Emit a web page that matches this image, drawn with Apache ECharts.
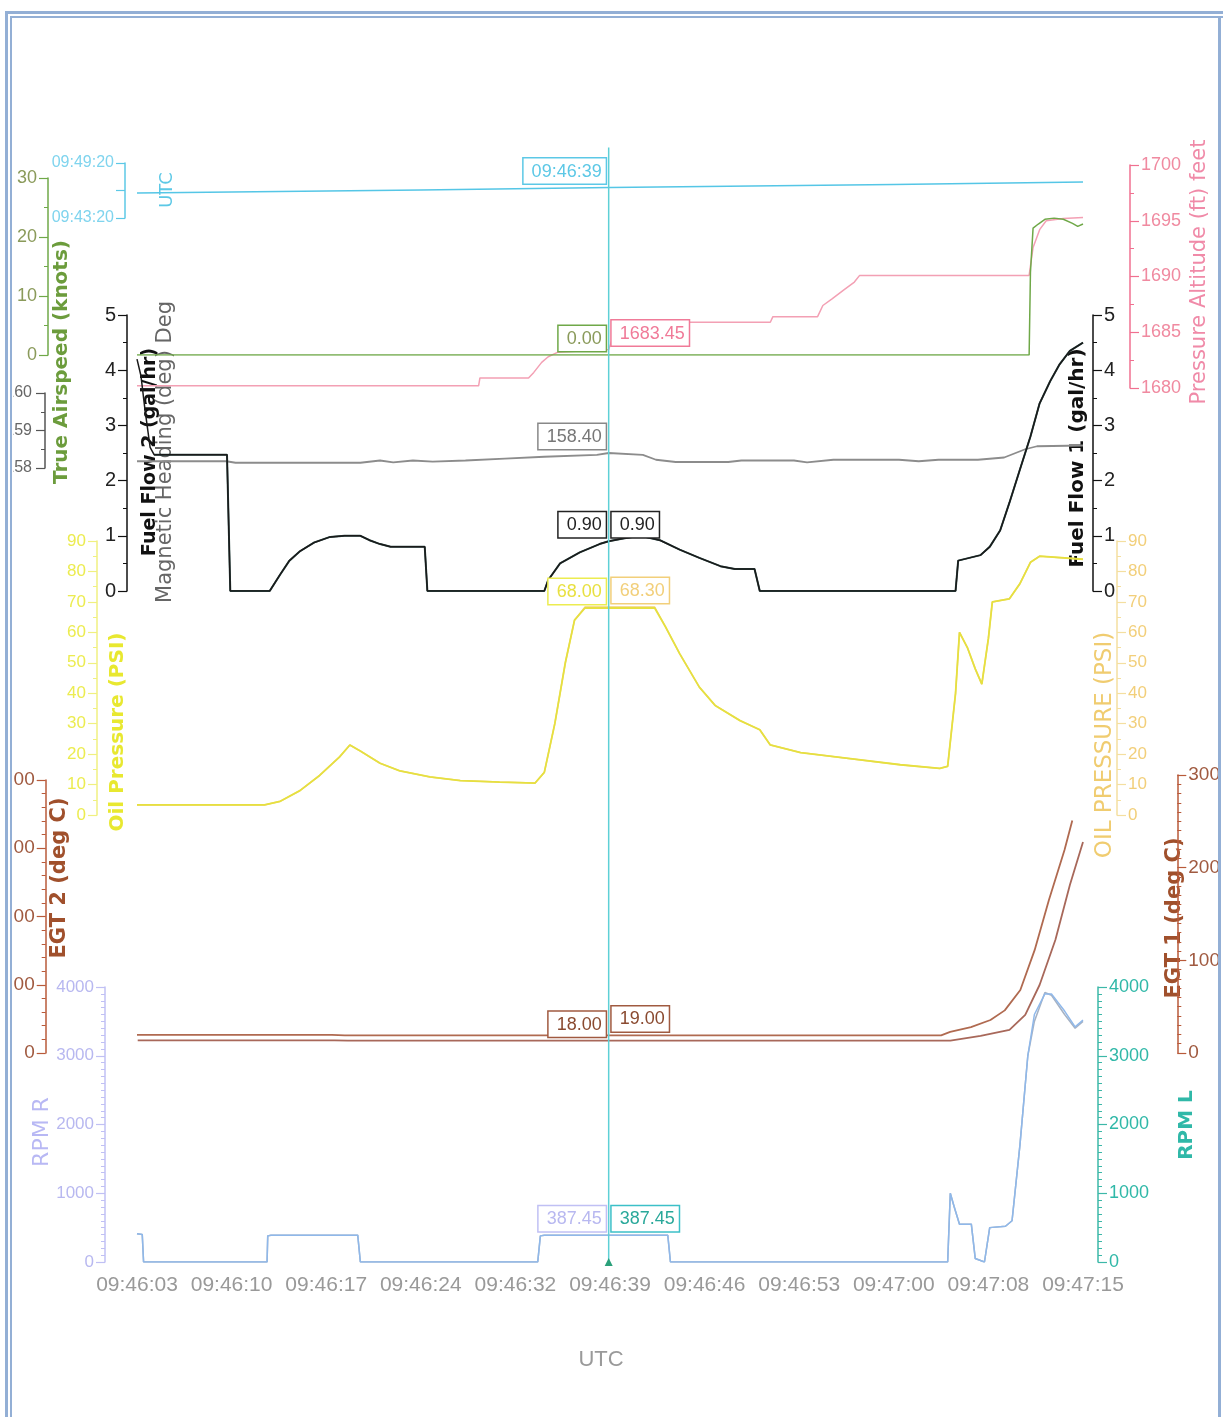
<!DOCTYPE html>
<html><head><meta charset="utf-8">
<script src="https://cdn.jsdelivr.net/npm/echarts@6/dist/echarts.min.js"></script>
<style>
html,body{margin:0;padding:0;background:#fff;}
#chart{position:absolute;left:0;top:0;width:1223px;height:1417px;}
.m{position:absolute;background:#fff;}
.f{position:absolute;background:#93afd5;}
</style></head><body>
<div id="chart"></div>
<div class="m" style="left:0;top:0;width:13px;height:1417px"></div>
<div class="m" style="left:1219px;top:0;width:4px;height:1417px"></div>
<div class="f" style="left:5px;top:11px;width:1218px;height:3px"></div>
<div class="f" style="left:10px;top:16px;width:1213px;height:2px"></div>
<div class="f" style="left:5px;top:11px;width:3px;height:1406px"></div>
<div class="f" style="left:10px;top:16px;width:2px;height:1401px"></div>
<div class="f" style="left:1218px;top:16px;width:3px;height:1401px"></div>
<script>
// ---- data (t = seconds since 09:46:03) ----
const tickLabels = ['09:46:03','09:46:10','09:46:17','09:46:24','09:46:32','09:46:39','09:46:46','09:46:53','09:47:00','09:47:08','09:47:15'];
const cursorT = 35.9;
const utc = [[0,35163],[7.2,35170],[14.4,35177],[21.6,35184],[28.8,35192],[36,35199],[43.2,35206],[50.4,35213],[57.6,35220],[64.8,35228],[72,35235]];
const airspeed = [[0,0],[67.9,0],[68.0,14],[68.2,21.5],[68.6,22.2],[69.1,23],[69.8,23.2],[70.5,23],[71.2,22.3],[71.6,21.8],[72,22.2]];
const pressAlt = [[0,1680.2],[26.0,1680.2],[26.1,1680.9],[29.8,1680.9],[30.2,1681.4],[30.8,1682.3],[31.3,1682.8],[32.0,1683.2],[35.9,1683.45],[36.5,1685.5],[37.5,1685.9],[48.2,1685.9],[48.4,1686.4],[51.8,1686.4],[52.2,1687.4],[52.9,1688.0],[53.8,1688.8],[54.6,1689.5],[55.0,1690.1],[67.9,1690.1],[68.2,1692.6],[68.7,1694.2],[69.2,1695.0],[70.5,1695.2],[72,1695.3]];
const heading = [[0,158.18],[6.8,158.18],[7.5,158.14],[17,158.14],[18.5,158.2],[19.5,158.15],[21,158.2],[22.5,158.17],[25,158.2],[28,158.25],[31,158.3],[35,158.35],[35.9,158.4],[38.5,158.35],[39.5,158.22],[41,158.16],[45,158.16],[46,158.2],[50,158.2],[51,158.15],[53,158.22],[58,158.22],[59.5,158.18],[61,158.22],[64,158.22],[66,158.28],[67.6,158.5],[68.5,158.58],[72,158.6]];
const fuelFlow2 = [[0,4.2],[0.3,3.9],[0.6,3.3],[1.0,2.6],[1.3,2.47],[6.85,2.47],[7.1,0],[10.1,0],[10.9,0.3],[11.6,0.55],[12.4,0.72],[13.5,0.88],[14.7,0.98],[15.8,1.0],[17,1.0],[17.7,0.92],[18.5,0.85],[19.3,0.8],[21.9,0.8],[22.1,0],[31.0,0],[31.3,0.2],[32.2,0.5],[33.7,0.7],[35.2,0.85],[35.9,0.9],[37,0.95],[38.3,1.0],[39.8,0.92],[41.3,0.75],[42.8,0.6],[44.4,0.45],[45.5,0.4],[47.0,0.4],[47.4,0],[62.3,0],[62.5,0.55],[64.2,0.65],[64.9,0.8],[65.7,1.1],[66.4,1.6],[67.2,2.2],[68,2.8],[68.7,3.4],[69.5,3.8],[70.2,4.1],[71,4.35],[72,4.5]];
const fuelFlow1 = [[1.3,2.47],[6.85,2.47],[7.1,0],[10.1,0],[10.9,0.3],[11.6,0.55],[12.4,0.72],[13.5,0.88],[14.7,0.98],[15.8,1.0],[17,1.0],[17.7,0.92],[18.5,0.85],[19.3,0.8],[21.9,0.8],[22.1,0],[31.0,0],[31.3,0.2],[32.2,0.5],[33.7,0.7],[35.2,0.85],[35.9,0.9],[37,0.95],[38.3,1.0],[39.8,0.92],[41.3,0.75],[42.8,0.6],[44.4,0.45],[45.5,0.4],[47.0,0.4],[47.4,0],[62.3,0],[62.5,0.55],[64.2,0.65],[64.9,0.8],[65.7,1.1],[66.4,1.6],[67.2,2.2],[68,2.8],[68.7,3.4],[69.5,3.8],[70.2,4.1],[71,4.35],[72,4.5]];
const oilL = [[0,3.3],[9.7,3.3],[10.9,4.5],[12.4,8],[13.9,13],[15.4,19],[16.2,23],[17,21],[18.5,17],[20,14.5],[22.3,12.5],[24.6,11.3],[27.6,10.8],[30.3,10.5],[31,14],[31.8,30],[32.6,50],[33.3,64],[34.1,68],[35.9,68],[39.4,68],[40.2,62],[41.3,53],[42.8,42],[44,36],[45.9,31],[47.4,28],[48.2,23],[50.5,20.5],[54.3,18.5],[58.1,16.5],[61.1,15.3],[61.7,16],[62.3,40],[62.6,60],[63.2,55],[63.8,48],[64.3,43],[64.8,58],[65.1,70],[66.4,71],[67.2,76],[68,83],[68.7,85],[72,84]];
const oilR = [[0,3.3],[9.7,3.3],[10.9,4.5],[12.4,8],[13.9,13],[15.4,19],[16.2,23],[17,21],[18.5,17],[20,14.5],[22.3,12.5],[24.6,11.3],[27.6,10.8],[30.3,10.5],[31,14],[31.8,30],[32.6,50],[33.3,64],[34.1,68.3],[35.9,68.3],[39.4,68.3],[40.2,62],[41.3,53],[42.8,42],[44,36],[45.9,31],[47.4,28],[48.2,23],[50.5,20.5],[54.3,18.5],[58.1,16.5],[61.1,15.3],[61.7,16],[62.3,40],[62.6,60],[63.2,55],[63.8,48],[64.3,43],[64.8,58],[65.1,70],[66.4,71],[67.2,76],[68,83],[68.7,85],[72,84]];
const egt1 = [[0,19.5],[15,19.5],[16,19],[35.9,19],[50,19],[61.9,19],[62.6,22.7],[64.2,28],[65.7,35.6],[66.8,46],[68,68],[69.1,111],[70.2,165],[71.4,219],[72,251]];
const egt2 = [[0,18.5],[15,18.5],[16,18],[35.9,18],[50,18],[61.9,18],[64.2,25],[66.4,34],[67.6,56],[68.7,100],[69.9,166],[71,246],[72,309]];
const rpmR = [[0,410],[0.4,400],[0.5,0],[9.9,0],[9.95,380],[10.2,390],[16.8,390],[17,0],[30.5,0],[30.7,380],[31,387.45],[40.4,387.45],[40.6,0],[61.7,0],[61.9,1000],[62.2,800],[62.6,550],[63.5,550],[63.8,50],[64.5,0],[64.9,500],[66.1,520],[66.6,600],[67.2,1700],[67.8,3000],[68.3,3600],[69.1,3900],[69.6,3900],[70.6,3650],[71.4,3420],[72,3520]];
const rpmL = [[0,410],[0.4,400],[0.5,0],[9.9,0],[9.95,380],[10.2,390],[16.8,390],[17,0],[30.5,0],[30.7,380],[31,387.45],[40.4,387.45],[40.6,0],[61.7,0],[61.9,1000],[62.2,800],[62.6,550],[63.5,550],[63.8,50],[64.5,0],[64.9,500],[66.1,520],[66.6,600],[67.2,1700],[67.8,3000],[68.3,3500],[69.1,3920],[69.6,3880],[70.6,3600],[71.4,3400],[72,3500]];

// ---- layout ----
const L = 137, R = 140;
const FONT = 'Liberation Sans, Arial, sans-serif';
const NFONT = 'DejaVu Sans, sans-serif';
const bands = [ // top, height
  [163,55],[178,177],[165,223],[393,75],[315,276],[541,274],[541,274],[780,273],[775,278],[987,275]
];
const grid = bands.map(b => ({left:L, right:R, top:b[0], height:b[1]}));
const xAxis = bands.map((b,i) => ({
  type:'value', gridIndex:i, min:0, max:72, interval:7.2,
  show: i === bands.length-1,
  axisLine:{show:false}, axisTick:{show:false}, splitLine:{show:false},
  axisLabel:{color:'#999', fontSize:21, fontFamily:FONT, margin:13, showMinLabel:true, showMaxLabel:true,
    formatter: v => tickLabels[Math.round(v/7.2)] || ''}
}));
function yAx(g, pos, off, min, max, itv, minorSplit, lineColor, labelColor, fs, fmt, margin){
  return {type:'value', gridIndex:g, position:pos, offset:off, min:min, max:max, interval:itv,
    axisLine:{show:true, onZero:false, lineStyle:{color:lineColor, width:1.5}},
    axisTick:{show:true, length:9, lineStyle:{color:lineColor, width:1.2}},
    minorTick:{show:minorSplit>0, splitNumber:minorSplit||5, length:4, lineStyle:{color:lineColor}},
    splitLine:{show:false}, minorSplitLine:{show:false},
    axisLabel:{color:labelColor, fontSize:fs, fontFamily:FONT, margin:margin||11, formatter: fmt || (v => String(v))}
  };
}
function hms(v){const h=Math.floor(v/3600),m=Math.floor(v%3600/60),s=Math.round(v%60);const p=n=>String(n).padStart(2,'0');return p(h)+':'+p(m)+':'+p(s);}
const yAxis = [
  yAx(0,'left',12,35000,35360,180,0,'#5cc8e6','#7fd4ee',16, v => (v===35000||v===35360)?hms(v):''),
  yAx(1,'left',89,0,30,10,2,'#6fa848','#8a9a5a',18),
  yAx(2,'right',47,1680,1700,5,2,'#f07090','#f08aa0',18),
  yAx(3,'left',92,158,160,1,2,'#555','#666',16, null, 13),
  yAx(4,'left',10,0,5,1,2,'#111','#222',20),
  yAx(4,'right',10,0,5,1,2,'#111','#222',20),
  yAx(5,'left',40,0,90,10,2,'#f0f080','#ecec50',17),
  yAx(6,'right',34,0,90,10,2,'#f4dfa0','#f2cf7a',17),
  yAx(7,'left',92,0,400,100,5,'#b85a3a','#a05a40',19),
  yAx(8,'right',105,0,300,100,10,'#b85a3a','#a05a40',19),
  yAx(9,'left',32,0,4000,1000,10,'#c0c0f4','#b8b8f0',17),
  yAx(9,'right',15,0,4000,1000,10,'#3cb8a8','#30b8a8',18)
];
function ln(name, data, xi, yi, color, w, z){
  return {name, type:'line', data, xAxisIndex:xi, yAxisIndex:yi, showSymbol:false, symbol:'none',
    lineStyle:{color, width:w||1.5}, z:z||2, silent:true};
}
const series = [
  ln('UTC', utc, 0, 0, '#55c6e6', 1.5),
  ln('Pressure Altitude', pressAlt, 2, 2, '#f3a0b4', 1.5),
  ln('True Airspeed', airspeed, 1, 1, '#6fa848', 1.5, 3),
  ln('Magnetic Heading', heading, 3, 3, '#8c8c8c', 1.8),
  ln('Fuel Flow 1', fuelFlow1, 4, 5, '#2e4d4a', 2.0, 4),
  ln('Fuel Flow 2', fuelFlow2, 4, 4, '#1a1a1a', 1.5, 5),
  ln('OIL PRESSURE', oilR, 6, 7, '#f2cf7a', 1.5),
  ln('Oil Pressure', oilL, 5, 6, '#e6e040', 1.8, 3),
  ln('EGT 2', egt2, 7, 8, '#a8685a', 1.8),
  ln('EGT 1', egt1, 8, 9, '#b06a50', 1.8),
  ln('RPM L', rpmL, 9, 11, '#a6b2c4', 1.5),
  ln('RPM R', rpmR, 9, 10, '#8fb8ea', 1.5, 3)
];
const chart = echarts.init(document.getElementById('chart'), null, {renderer:'canvas'});
chart.setOption({animation:false, backgroundColor:'#fff', grid, xAxis, yAxis, series});

// ---- axis names ----
const names = [
  ['UTC',167,190,'#5cc8e6',false,18],
  ['True Airspeed (knots)',62,362,'#6c9c3c',true,20],
  ['Fuel Flow 2 (gal/hr)',150,452,'#111',true,19],
  ['Magnetic Heading (deg) Deg',166,452,'#666',false,21],
  ['Oil Pressure (PSI)',118,732,'#e8e830',true,20],
  ['EGT 2 (deg C)',60,878,'#a0502c',true,21],
  ['RPM R',42,1132,'#b8b8f4',false,22],
  ['Pressure Altitude (ft) feet',1200,272,'#f08aa8',false,21],
  ['Fuel Flow 1 (gal/hr)',1078,458,'#111',true,20],
  ['OIL PRESSURE (PSI)',1105,745,'#f0cc70',false,23],
  ['EGT 1 (deg C)',1175,918,'#a0502c',true,21],
  ['RPM L',1187,1125,'#30b8a8',true,20]
];
const gfx = names.map(n => ({type:'text', x:n[1], y:n[2], rotation:Math.PI/2, silent:true,
  style:{text:n[0], fill:n[3], font:(n[4]?'bold ':'')+n[5]+'px '+NFONT, textAlign:'center', textVerticalAlign:'middle'}}));
gfx.push({type:'text', x:601, y:1360, silent:true, style:{text:'UTC', fill:'#9a9a9a', font:'22px '+FONT, textAlign:'center', textVerticalAlign:'middle'}});

// ---- cursor & value boxes, placed via library scales ----
const cx = chart.convertToPixel({xAxisIndex:9}, cursorT);
const topY = chart.convertToPixel({xAxisIndex:0, yAxisIndex:0}, [cursorT, 35199])[1];
const botY = chart.convertToPixel({xAxisIndex:9, yAxisIndex:10}, [cursorT, 0])[1];
gfx.push({type:'line', silent:true, z:50, shape:{x1:cx, y1:topY-40, x2:cx, y2:botY+3}, style:{stroke:'#5ed0d6', lineWidth:1.5}});
gfx.push({type:'polygon', silent:true, z:51, shape:{points:[[cx-4,botY+4],[cx+4,botY+4],[cx,botY-4]]}, style:{fill:'#2aa07a'}});
const boxes = [
  ['09:46:39', 'L', 0, 0, 35199, '#5cc8e6', '#5cc8e6'],
  ['0.00', 'L', 1, 1, 0, '#8a9a5a', '#6fa848'],
  ['1683.45', 'R', 2, 2, 1683.45, '#f07a98', '#f07a98'],
  ['158.40', 'L', 3, 3, 158.40, '#777', '#888'],
  ['0.90', 'L', 4, 4, 0.90, '#222', '#222'],
  ['0.90', 'R', 4, 5, 0.90, '#222', '#222'],
  ['68.00', 'L', 5, 6, 68.00, '#e8e040', '#ecec50'],
  ['68.30', 'R', 6, 7, 68.30, '#f2cf7a', '#f2cf7a'],
  ['18.00', 'L', 7, 8, 18.00, '#8a4a30', '#a05a40'],
  ['19.00', 'R', 8, 9, 19.00, '#8a4a30', '#a05a40'],
  ['387.45', 'L', 9, 10, 387.45, '#b8b8f0', '#c0c0f4'],
  ['387.45', 'R', 9, 11, 387.45, '#2aa89a', '#3cc0c8']
];
boxes.forEach(b => {
  const y = chart.convertToPixel({xAxisIndex:b[2], yAxisIndex:b[3]}, [cursorT, b[4]])[1];
  const left = b[1] === 'L';
  gfx.push({type:'text', silent:true, z:60, x: left ? cx-3 : cx+3, y: y-4,
    style:{text:b[0], fill:b[5], font:'18px '+FONT, textAlign: left?'right':'left', textVerticalAlign:'bottom',
      backgroundColor:'#fff', borderColor:b[6], borderWidth:1.5, padding:[4,4,3,8]}});
});
chart.setOption({graphic: gfx});
</script>
</body></html>
